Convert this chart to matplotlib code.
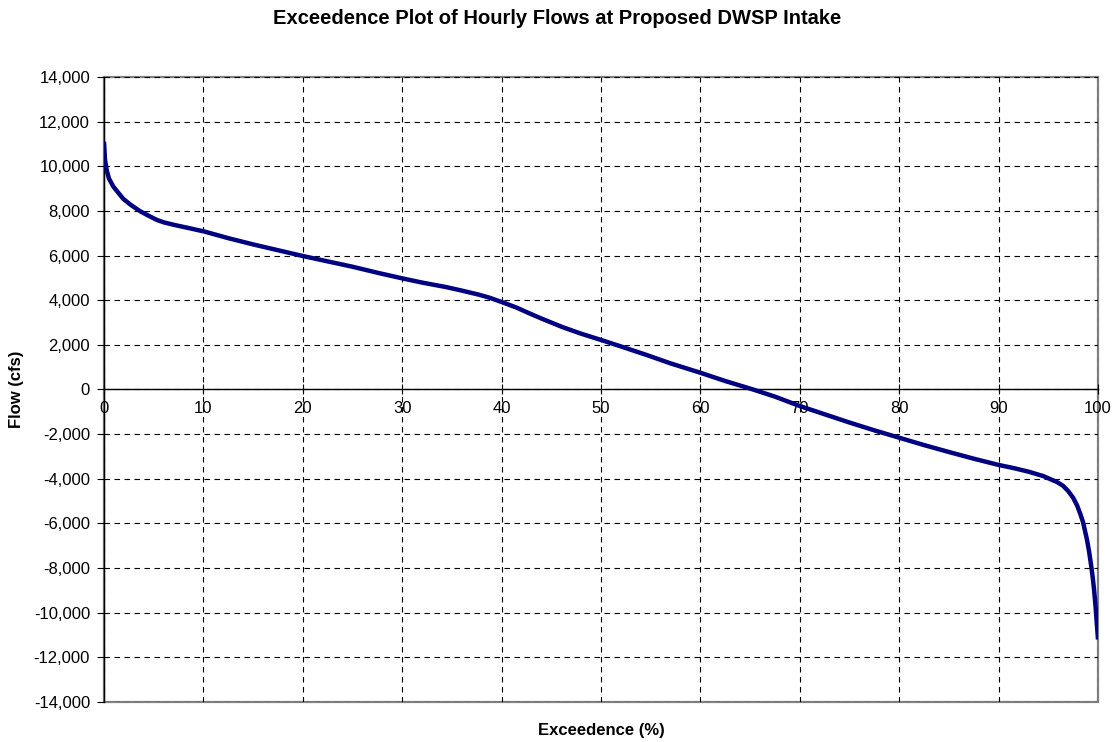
import matplotlib
matplotlib.use("Agg")
import matplotlib.pyplot as plt
from matplotlib.patches import Rectangle
from matplotlib.ticker import FuncFormatter, MultipleLocator

plt.rcParams['font.family'] = ['Liberation Sans', 'DejaVu Sans']

exceedence = [0, 0.1, 0.27, 0.5, 0.94, 1.5, 1.94, 2.7, 3.62, 4.5, 5.3, 6.0, 7, 8.65, 10.16,
              12.5, 15, 17.5, 20, 22.5, 25, 27.8, 30, 32, 34.4, 36, 37.7, 38.8, 40, 41.5,
              42.7, 44, 46.1, 48, 50, 52, 54.5, 57, 60, 62.5, 65.3, 67.5, 70, 72.5, 75,
              77.5, 80, 82.5, 85, 87.5, 90, 91.5, 93, 94.5, 95.9, 96.5, 97.0, 97.5, 97.9,
              98.2, 98.5, 98.9, 99.1, 99.3, 99.45, 99.6, 99.75, 99.85, 100]
flow = [11100, 10300, 9830, 9450, 9090, 8780, 8540, 8270, 7990, 7780, 7600, 7490, 7380, 7220, 7070,
        6780, 6500, 6240, 5980, 5740, 5500, 5200, 4980, 4790, 4590, 4430, 4250, 4110, 3920, 3670,
        3430, 3180, 2800, 2500, 2220, 1930, 1560, 1170, 750, 380, 0, -320, -740, -1110, -1480,
        -1830, -2160, -2490, -2800, -3100, -3380, -3520, -3680, -3880, -4150, -4320, -4550, -4850, -5200,
        -5550, -5950, -6750, -7250, -7850, -8350, -8950, -9700, -10300, -11200]

title = "Exceedence Plot of Hourly Flows at Proposed DWSP Intake"
xlabel = "Exceedence (%)"
ylabel = "Flow (cfs)"

fig = plt.figure(figsize=(11.15, 7.42), dpi=100)
ax = fig.add_axes([104/1115, 1-702/742, (1098-104)/1115, (702-77)/742])

ax.set_xlim(0, 100)
ax.set_ylim(-14000, 14000)
ax.xaxis.set_major_locator(MultipleLocator(10))
ax.yaxis.set_major_locator(MultipleLocator(2000))
ax.yaxis.set_major_formatter(FuncFormatter(lambda v, p: f"{int(round(v)):,}"))

ax.grid(True, color='black', linestyle=(0, (5, 4)), linewidth=0.8)
ax.set_axisbelow(True)

# plot area border in gray
ax.add_patch(Rectangle((0, 0), 1, 1, transform=ax.transAxes, fill=False,
                       edgecolor='#808080', linewidth=1.6, zorder=0.5, clip_on=False))
for s in ['top', 'right']:
    ax.spines[s].set_visible(False)
ax.spines['left'].set_color('black')
ax.spines['left'].set_linewidth(1.0)
ax.spines['bottom'].set_position(('data', 0))
ax.spines['bottom'].set_color('black')
ax.spines['bottom'].set_linewidth(1.0)

ax.tick_params(axis='x', direction='inout', length=7, width=0.8, pad=5, labelsize=12)
ax.tick_params(axis='y', direction='out', length=5, width=0.8, pad=5, labelsize=12)

ax.plot(exceedence, flow, color='#000080', linewidth=3.2, solid_joinstyle='round',
        solid_capstyle='butt', zorder=3)

fig.text(0.5, 1-18/742, title, ha='center', va='center', fontsize=14.5, fontweight='bold')
fig.text(601/1115, 1-731/742, xlabel, ha='center', va='center', fontsize=12, fontweight='bold')
fig.text(17/1115, 1-389/742, ylabel, ha='center', va='center', rotation=90,
         fontsize=12, fontweight='bold')

fig.savefig("out.png", dpi=100)
